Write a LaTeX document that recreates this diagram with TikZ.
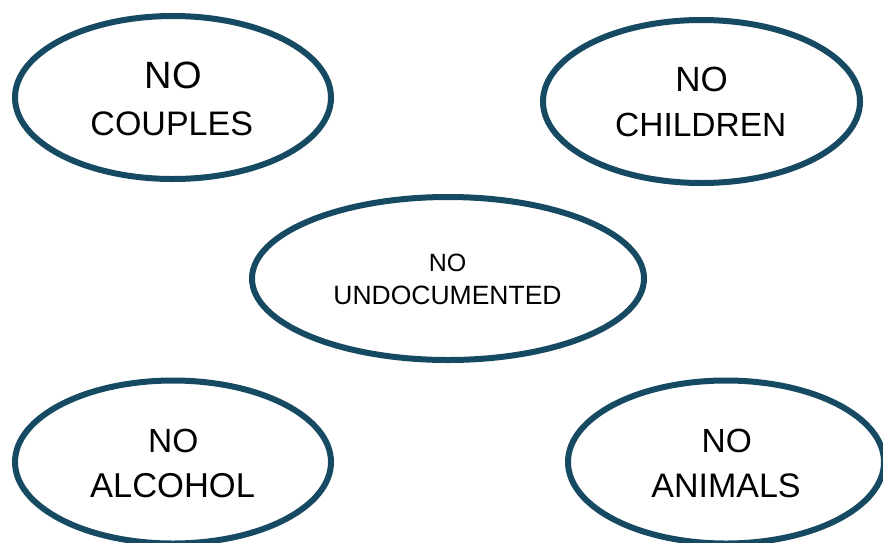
\documentclass[tikz,border=0pt]{standalone}
\usepackage{fontspec}
\setmainfont{Liberation Sans}
\usetikzlibrary{shapes.geometric}
\definecolor{ringcol}{HTML}{154A62}
\tikzset{
  ring/.style={shape=ellipse, draw=ringcol, line width=6pt, fill=white, inner sep=0pt, outer sep=0pt},
  txt/.style={anchor=base, inner sep=0pt, outer sep=0pt, text=black}
}
\begin{document}
\begin{tikzpicture}[x=1pt,y=-1pt]
\useasboundingbox (0,0) rectangle (883,542);
\clip (0,0) rectangle (883,542);
\fill[white] (0,0) rectangle (883,542);
% ellipses
\node[ring, minimum width=316pt, minimum height=163pt] (e1) at (173,97.5) {};
\node[ring, minimum width=317pt, minimum height=163pt] (e2) at (701.5,101.5) {};
\node[ring, minimum width=392pt, minimum height=163pt] (e3) at (448,278.5) {};
\node[ring, minimum width=316pt, minimum height=163pt] (e4) at (173,462) {};
\node[ring, minimum width=316pt, minimum height=163pt] (e5) at (726,462) {};
% texts
\node[txt, font=\fontsize{38}{41}\selectfont] (t1a) at (173.3,88.5) {NO};
\node[txt, font=\fontsize{34}{37}\selectfont] (t1b) at (171.7,135) {COUPLES};
\node[txt, font=\fontsize{35}{38}\selectfont] (t2a) at (701.7,91.7) {NO};
\node[txt, font=\fontsize{33.5}{37}\selectfont] (t2b) at (700.8,136) {CHILDREN};
\node[txt, font=\fontsize{25}{28}\selectfont] (t3a) at (447.5,271) {NO};
\node[txt, font=\fontsize{26.5}{29}\selectfont] (t3b) at (447.5,304) {UNDOCUMENTED};
\node[txt, font=\fontsize{33.5}{37}\selectfont] (t4a) at (173.3,452.7) {NO};
\node[txt, font=\fontsize{34.5}{37}\selectfont] (t4b) at (172.5,497.3) {ALCOHOL};
\node[txt, font=\fontsize{33.5}{37}\selectfont] (t5a) at (726.7,452.7) {NO};
\node[txt, font=\fontsize{34}{37}\selectfont] (t5b) at (726,497.3) {ANIMALS};
\end{tikzpicture}
\end{document}
